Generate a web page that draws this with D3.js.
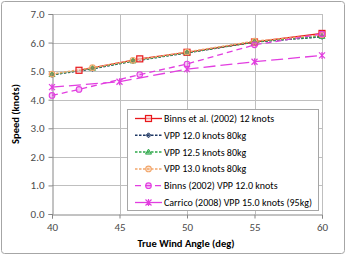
<!DOCTYPE html>
<html><head><meta charset="utf-8">
<script src="https://cdn.jsdelivr.net/npm/d3@7"></script>
<style>body{margin:0;background:#fff}svg{display:block}</style>
</head><body>
<script>
const xTicks = [40, 45, 50, 55, 60];
const yTicks = [0, 1, 2, 3, 4, 5, 6, 7];
const binnsEtAlX = [42, 46.5, 50, 55, 60];
const binnsEtAlY = [5.03, 5.43, 5.66, 6.02, 6.32];
const vppX = [40, 43, 46, 50, 55, 60];
const vpp120 = [4.87, 5.08, 5.35, 5.64, 6.02, 6.2];
const vpp125 = [4.88, 5.1, 5.36, 5.65, 6.03, 6.22];
const vpp130 = [4.9, 5.12, 5.38, 5.67, 6.05, 6.27];
const binns2002X = [40, 42, 46.5, 50, 55, 60];
const binns2002Y = [4.15, 4.36, 4.88, 5.25, 5.92, 6.3];
const carricoX = [40, 45, 50, 55, 60];
const carricoY = [4.44, 4.63, 5.07, 5.33, 5.55];
const seriesNames = ["Binns et al. (2002) 12 knots","VPP 12.0 knots 80kg","VPP 12.5 knots 80kg","VPP 13.0 knots 80kg","Binns (2002) VPP 12.0 knots","Carrico (2008) VPP 15.0 knots (95kg)"];

const series = [
  {name: seriesNames[0], xs: binnsEtAlX, ys: binnsEtAlY, color: "#e8181c", dash: null, width: 1.3, marker: "square"},
  {name: seriesNames[1], xs: vppX, ys: vpp120, color: "#1f3864", dash: "2.5,1.5", width: 1.5, marker: "diamond"},
  {name: seriesNames[2], xs: vppX, ys: vpp125, color: "#2ea84a", dash: "2.5,1.5", width: 1.5, marker: "triangle"},
  {name: seriesNames[3], xs: vppX, ys: vpp130, color: "#f2a66b", dash: "2.5,1.5", width: 1.5, marker: "circle"},
  {name: seriesNames[4], xs: binns2002X, ys: binns2002Y, color: "#e23ee0", dash: "6,4", width: 1.3, marker: "circle"},
  {name: seriesNames[5], xs: carricoX, ys: carricoY, color: "#e23ee0", dash: "12,5", width: 1.3, marker: "star"}
];

const W = 347, H = 256;
const svg = d3.select("body").append("svg").attr("width", W).attr("height", H);
svg.append("rect").attr("x", 1.5).attr("y", 1.5).attr("width", W - 4).attr("height", H - 4)
  .attr("rx", 3).attr("fill", "#fff").attr("stroke", "#a6a6a6").attr("stroke-width", 1);

const x = d3.scaleLinear().domain([40, 60]).range([52, 322]);
const y = d3.scaleLinear().domain([0, 7]).range([214, 14]);
const font = "Calibri, Carlito, 'Liberation Sans Narrow', 'Open Sans', sans-serif";

// grid
const g = svg.append("g");
g.selectAll(".hg").data(yTicks.slice(1)).join("line")
  .attr("x1", x(40)).attr("x2", x(60)).attr("y1", d => Math.round(y(d)) + 0.5).attr("y2", d => Math.round(y(d)) + 0.5)
  .attr("stroke", "#bfbfbf").attr("stroke-width", 1);
g.selectAll(".vg").data(xTicks.slice(1)).join("line")
  .attr("y1", y(0)).attr("y2", y(7)).attr("x1", d => Math.round(x(d)) + 0.5).attr("x2", d => Math.round(x(d)) + 0.5)
  .attr("stroke", "#bfbfbf").attr("stroke-width", 1);

// axes
const xAxis = d3.axisBottom(x).tickValues(xTicks).tickSize(4).tickFormat(d3.format("d"));
const yAxis = d3.axisLeft(y).tickValues(yTicks).tickSize(4).tickFormat(d3.format(".1f"));
const gx = svg.append("g").attr("transform", `translate(0,${Math.round(y(0)) + 0.5})`).call(xAxis);
const gy = svg.append("g").attr("transform", `translate(${Math.round(x(40)) + 0.5},0)`).call(yAxis);
[gx, gy].forEach(a => {
  a.select(".domain").attr("stroke", "#868686");
  a.selectAll(".tick line").attr("stroke", "#868686");
  a.selectAll("text").attr("fill", "#4a4a4a").style("font-family", font).style("font-size", "11px");
});
gx.selectAll("text").attr("dy", "0.71em").attr("y", 9);
gy.selectAll("text").attr("x", -8);

svg.append("text").attr("x", 186).attr("y", 247).attr("text-anchor", "middle")
  .style("font-family", font).style("font-size", "10.5px").style("font-weight", "bold").attr("fill", "#000")
  .text("True Wind Angle (deg)");
svg.append("text").attr("transform", "translate(19,114) rotate(-90)").attr("text-anchor", "middle")
  .style("font-family", font).style("font-size", "10.5px").style("font-weight", "bold").attr("fill", "#000")
  .text("Speed (knots)");

function drawMarker(sel, type, color, cx, cy) {
  if (type === "square") {
    sel.append("rect").attr("x", cx - 3).attr("y", cy - 3).attr("width", 6).attr("height", 6)
      .attr("fill", "#fbd0d0").attr("fill-opacity", 0.6).attr("stroke", color).attr("stroke-width", 1.2);
  } else if (type === "diamond") {
    sel.append("path").attr("d", `M${cx},${cy-2.5}L${cx+2.5},${cy}L${cx},${cy+2.5}L${cx-2.5},${cy}Z`)
      .attr("fill", color).attr("fill-opacity", 0.5).attr("stroke", color).attr("stroke-width", 1);
  } else if (type === "triangle") {
    sel.append("path").attr("d", `M${cx},${cy-3}L${cx+3},${cy+2}L${cx-3},${cy+2}Z`)
      .attr("fill", color).attr("fill-opacity", 0.4).attr("stroke", color).attr("stroke-width", 1);
  } else if (type === "circle") {
    sel.append("circle").attr("cx", cx).attr("cy", cy).attr("r", 2.8)
      .attr("fill", color).attr("fill-opacity", 0.3).attr("stroke", color).attr("stroke-width", 1.1);
  } else if (type === "star") {
    const r = 3.5;
    let d = "";
    [0].forEach(a => {
      d += `M${cx},${cy - r}L${cx},${cy + r}`;
    });
    d += `M${cx-3},${cy-3}L${cx+3},${cy+3}M${cx+3},${cy-3}L${cx-3},${cy+3}`;
    sel.append("path").attr("d", d).attr("stroke", color).attr("stroke-width", 1.2).attr("fill", "none");
  }
}

const line = d3.line().x(d => x(d[0])).y(d => y(d[1]));
series.forEach(s => {
  const pts = s.xs.map((v, i) => [v, s.ys[i]]);
  svg.append("path").attr("d", line(pts)).attr("fill", "none").attr("stroke", s.color)
    .attr("stroke-width", s.width).attr("stroke-dasharray", s.dash);
});
series.forEach(s => {
  const gm = svg.append("g");
  s.xs.forEach((v, i) => drawMarker(gm, s.marker, s.color, x(v), y(s.ys[i])));
});

// legend
const lg = svg.append("g");
lg.append("rect").attr("x", 127.5).attr("y", 109.5).attr("width", 191).attr("height", 101)
  .attr("fill", "#fff").attr("stroke", "#a6a6a6").attr("stroke-width", 1);
series.forEach((s, i) => {
  const cy = 118.5 + i * 16.8;
  lg.append("line").attr("x1", 135).attr("x2", 162).attr("y1", cy).attr("y2", cy)
    .attr("stroke", s.color).attr("stroke-width", s.width).attr("stroke-dasharray", s.dash ? (i === 5 ? null : s.dash) : null);
  drawMarker(lg, s.marker, s.color, 148.5, cy);
  lg.append("text").attr("x", 164).attr("y", cy).attr("dy", "0.35em")
    .style("font-family", font).style("font-size", "10px").attr("fill", "#000").text(s.name);
});
</script>
</body></html>
